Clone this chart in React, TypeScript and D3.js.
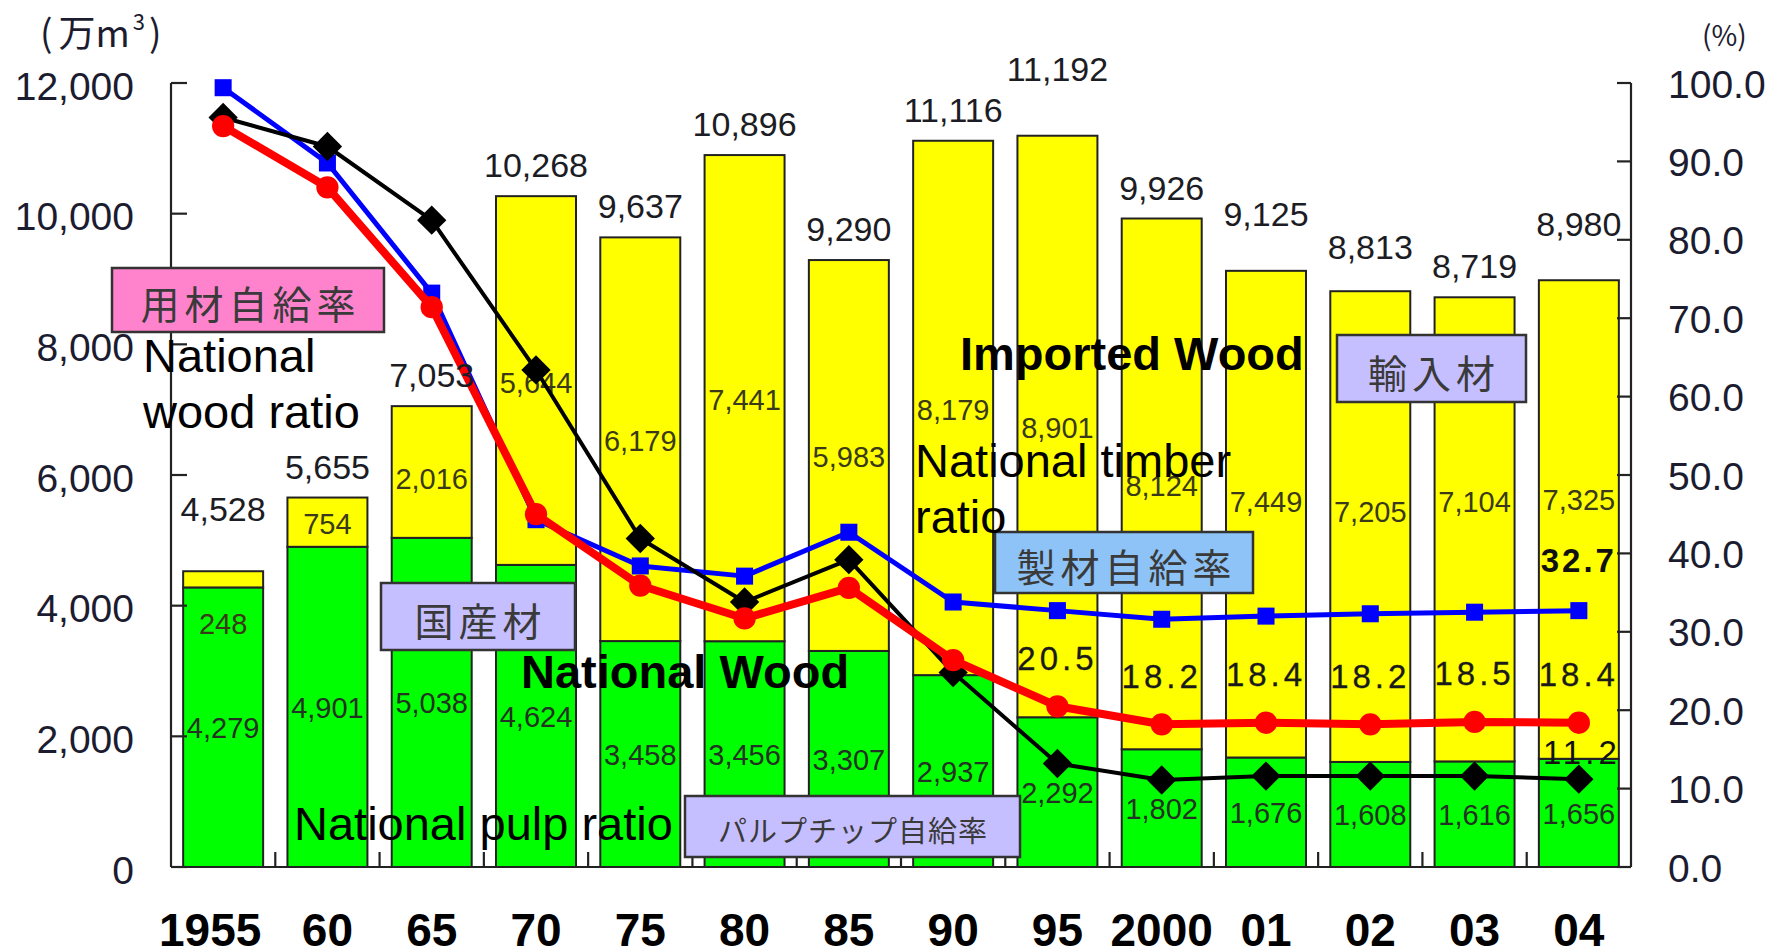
import React from 'react';
import * as d3 from 'd3';

// ---------- data ----------
const YEARS = ['1955', '60', '65', '70', '75', '80', '85', '90', '95', '2000', '01', '02', '03', '04'];
const NATIONAL = [4279, 4901, 5038, 4624, 3458, 3456, 3307, 2937, 2292, 1802, 1676, 1608, 1616, 1656];
const IMPORTED = [248, 754, 2016, 5644, 6179, 7441, 5983, 8179, 8901, 8124, 7449, 7205, 7104, 7325];
const TOTAL = [4528, 5655, 7053, 10268, 9637, 10896, 9290, 11116, 11192, 9926, 9125, 8813, 8719, 8980];
// self-sufficiency ratios (%)
const WOOD_RATIO = [94.5, 86.7, 71.4, 45.0, 35.9, 31.7, 35.6, 26.4, 20.5, 18.2, 18.4, 18.2, 18.5, 18.4]; // 用材 (red)
const TIMBER_RATIO = [99.4, 89.8, 73.2, 44.3, 38.4, 37.1, 42.7, 33.8, 32.7, 31.6, 32.0, 32.3, 32.5, 32.7]; // 製材 (blue)
const PULP_RATIO = [95.6, 91.9, 82.5, 63.4, 41.9, 33.8, 39.2, 24.8, 13.2, 11.1, 11.6, 11.6, 11.6, 11.2]; // パルプチップ (black)
const LEFT_TICKS = [0, 2000, 4000, 6000, 8000, 10000, 12000];
const RIGHT_TICKS = [0, 10, 20, 30, 40, 50, 60, 70, 80, 90, 100];
const WOOD_LABEL_IDX = [8, 9, 10, 11, 12, 13];
const TIMBER_LABEL_IDX = [13];
const PULP_LABEL_IDX = [13];

// ---------- layout nudges (pixels, not data) ----------
const TOTAL_LIFT = [31, 0, 0, 0, 0, 0, 0, 0, 36, 0, 26, 13, 0, 25];
const IMP_DY = [43, 0, 5, 0, 0, 0, 0, 0, 0, 0, -14, -17, -29, -22];
const XLABEL_DX = [-13, 0, 0, 0, 0, 0, 0, 0, 0, 0, 0, 0, 0, 0];

const NUM_FONT = 'Liberation Sans, Arial, sans-serif';
const CJK_FONT = '"Noto Sans CJK JP", sans-serif';

export default function App() {
  const W = 1788, H = 951;
  const left = 171, right = 1631, top = 83, bottom = 867;
  const x = d3.scaleBand<string>().domain(YEARS).range([left, right]).paddingInner(0.233).paddingOuter(0.1165);
  const yL = d3.scaleLinear().domain([0, 12000]).range([bottom, top]);
  const yR = d3.scaleLinear().domain([0, 100]).range([bottom, top]);
  const bw = x.bandwidth();
  const cx = (i: number) => (x(YEARS[i]) as number) + bw / 2;
  const line = d3.line<number>().x((_, i) => cx(i)).y((v) => yR(v));
  const sq = d3.symbol().type(d3.symbolSquare);
  const circ = d3.symbol().type(d3.symbolCircle).size(390)();
  const blueSq = sq.size(290)();
  const diamond = d3.symbol().type(d3.symbolSquare).size(430)();
  const fmt = d3.format(',');
  const stroke = '#222';
  const boundaries = d3.range(1, YEARS.length).map((i) => left + i * x.step());

  const box = (bx: number, by: number, bw2: number, bh: number, fill: string, label: string, fs: number, ls: number) => (
    <g>
      <rect x={bx} y={by} width={bw2} height={bh} fill={fill} stroke="#333" strokeWidth={2.5} />
      <text x={bx + bw2 / 2 + ls / 2} y={by + bh / 2 + 2} textAnchor="middle" dominantBaseline="central"
        fontFamily={CJK_FONT} fontSize={fs} letterSpacing={ls} fill="#3a3a3a">{label}</text>
    </g>
  );

  return (
    <svg width={W} height={H} style={{ position: 'absolute', left: 0, top: 0, display: 'block', background: '#fff' }}>
      {/* bars */}
      {YEARS.map((yr, i) => {
        const x0 = x(yr) as number;
        const yN = yL(NATIONAL[i]);
        const yT = yL(NATIONAL[i] + IMPORTED[i]);
        return (
          <g key={yr}>
            <rect x={x0} y={yN} width={bw} height={bottom - yN} fill="#00ff00" stroke={stroke} strokeWidth={2} />
            <rect x={x0} y={yT} width={bw} height={yN - yT} fill="#ffff00" stroke={stroke} strokeWidth={2} />
          </g>
        );
      })}

      {/* axes */}
      <g stroke="#222" strokeWidth={2.2} fill="none">
        <line x1={left} y1={top} x2={left} y2={bottom} />
        <line x1={right} y1={top} x2={right} y2={bottom} />
        <line x1={left} y1={bottom} x2={right} y2={bottom} />
        {LEFT_TICKS.map((t) => <line key={'lt' + t} x1={left} x2={left + 16} y1={yL(t)} y2={yL(t)} />)}
        {RIGHT_TICKS.map((t) => <line key={'rt' + t} x1={right - 14} x2={right} y1={yR(t)} y2={yR(t)} />)}
        {boundaries.map((b, i) => <line key={'bt' + i} x1={b} x2={b} y1={bottom} y2={bottom - 15} />)}
      </g>

      {/* axis tick labels */}
      {LEFT_TICKS.map((t) => (
        <text key={'ll' + t} x={134} y={yL(t) + 3} textAnchor="end" dominantBaseline="central"
          fontFamily={NUM_FONT} fontSize={39} fill="#1c1c30">{fmt(t)}</text>
      ))}
      {RIGHT_TICKS.map((t) => (
        <text key={'rl' + t} x={1668} y={yR(t) + 1} textAnchor="start" dominantBaseline="central"
          fontFamily={NUM_FONT} fontSize={39} fill="#1c1c30">{t.toFixed(1)}</text>
      ))}
      <text x={40} y={47} fontFamily={CJK_FONT} fontSize={37} fill="#1c1c30">
        <tspan>(</tspan><tspan dx={6}>万m</tspan><tspan fontSize={22} dy={-17} dx={3}>3</tspan><tspan dy={17} dx={4}>)</tspan>
      </text>
      <text x={1702} y={46} fontFamily={CJK_FONT} fontSize={28} fill="#1c1c30">(%)</text>

      {/* year labels */}
      {YEARS.map((yr, i) => (
        <text key={'xl' + yr} x={cx(i) + XLABEL_DX[i]} y={946} textAnchor="middle"
          fontFamily={NUM_FONT} fontWeight="bold" fontSize={46} fill="#000">{yr}</text>
      ))}

      {/* segment labels */}
      {YEARS.map((yr, i) => (
        <g key={'sl' + yr} fontFamily={NUM_FONT} fontSize={29} textAnchor="middle" dominantBaseline="central">
          <text x={cx(i)} y={yL(NATIONAL[i] / 2) + 1} fill="#233223">{fmt(NATIONAL[i])}</text>
          <text x={cx(i)} y={yL(NATIONAL[i] + IMPORTED[i] / 2) + 2 + IMP_DY[i]} fill="#3a3a18">{fmt(IMPORTED[i])}</text>
        </g>
      ))}

      {/* lines */}
      <path d={line(TIMBER_RATIO) || ''} fill="none" stroke="#0000ff" strokeWidth={5} strokeLinejoin="round" />
      {TIMBER_RATIO.map((v, i) => <path key={'bm' + i} d={blueSq || ''} transform={`translate(${cx(i)},${yR(v)})`} fill="#0000ff" />)}
      <path d={line(PULP_RATIO) || ''} fill="none" stroke="#000" strokeWidth={4} strokeLinejoin="round" />
      {PULP_RATIO.map((v, i) => <path key={'km' + i} d={diamond || ''} transform={`translate(${cx(i)},${yR(v)}) rotate(45)`} fill="#000" />)}
      <path d={line(WOOD_RATIO) || ''} fill="none" stroke="#ff0000" strokeWidth={8} strokeLinejoin="round" />
      {WOOD_RATIO.map((v, i) => <path key={'rm' + i} d={circ || ''} transform={`translate(${cx(i)},${yR(v)})`} fill="#ff0000" />)}

      {/* total labels */}
      {YEARS.map((yr, i) => (
        <text key={'tl' + yr} x={cx(i)} y={yL(TOTAL[i]) - 31 - TOTAL_LIFT[i]} textAnchor="middle" dominantBaseline="central"
          fontFamily={NUM_FONT} fontSize={34} fill="#1c1c24">{fmt(TOTAL[i])}</text>
      ))}

      {/* ratio value labels */}
      {WOOD_LABEL_IDX.map((i) => (
        <text key={'wl' + i} x={cx(i)} y={yR(WOOD_RATIO[i]) - 48} textAnchor="middle" dominantBaseline="central"
          fontFamily={NUM_FONT} fontSize={33} letterSpacing={4} fill="#1a1a1a" stroke="#1a1a1a" strokeWidth={0.3}>{WOOD_RATIO[i].toFixed(1)}</text>
      ))}
      {TIMBER_LABEL_IDX.map((i) => (
        <text key={'tbl' + i} x={cx(i)} y={yR(TIMBER_RATIO[i]) - 50} textAnchor="middle" dominantBaseline="central"
          fontFamily={NUM_FONT} fontWeight="bold" fontSize={33} letterSpacing={3} fill="#111">{TIMBER_RATIO[i].toFixed(1)}</text>
      ))}
      {PULP_LABEL_IDX.map((i) => (
        <text key={'pl' + i} x={cx(i) + 3} y={yR(PULP_RATIO[i]) - 27} textAnchor="middle" dominantBaseline="central"
          fontFamily={NUM_FONT} fontSize={33} letterSpacing={4} fill="#111">{PULP_RATIO[i].toFixed(1)}</text>
      ))}

      {/* annotation boxes */}
      {box(112, 268, 272, 64, '#ff83cc', '用材自給率', 39, 5)}
      {box(381, 583, 194, 67, '#c6bfff', '国産材', 39, 5)}
      {box(995, 532, 258, 61, '#8dc3f7', '製材自給率', 39, 5)}
      {box(1337, 335, 189, 67, '#c6bfff', '輸入材', 39, 5)}
      {box(685, 796, 335, 61, '#c6bfff', 'パルプチップ自給率', 29, 1)}

      {/* english annotations */}
      <g fontFamily={NUM_FONT} fontSize={47} fill="#000">
        <text x={143} y={372}>National</text>
        <text x={143} y={428}>wood ratio</text>
        <text x={915} y={477}>National timber</text>
        <text x={915} y={533}>ratio</text>
        <text x={294} y={840}>National pulp ratio</text>
        <text x={521} y={688} fontWeight="bold">National Wood</text>
        <text x={960} y={370} fontWeight="bold">Imported Wood</text>
      </g>
    </svg>
  );
}
